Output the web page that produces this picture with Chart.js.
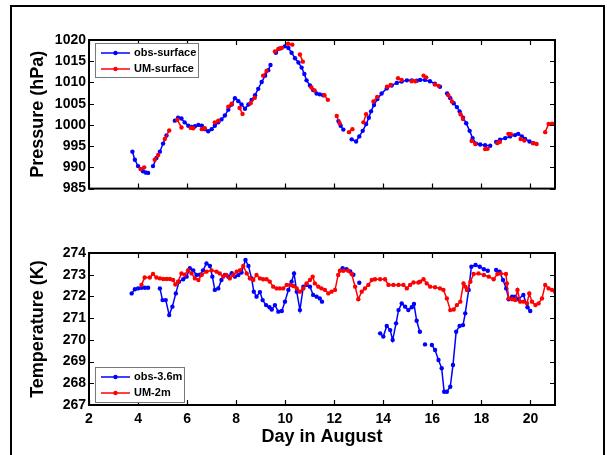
<!DOCTYPE html>
<html><head><meta charset="utf-8">
<script src="https://cdn.jsdelivr.net/npm/chart.js@4.4.0/dist/chart.umd.min.js"></script>
<style>
html,body{margin:0;padding:0;background:#fff;width:607px;height:455px;overflow:hidden;}
#frame{position:absolute;left:10px;top:5px;width:595px;height:470px;border:2px solid #000;box-sizing:border-box;}
.wrap{position:absolute;left:0;width:607px;}
#w1{top:0;height:200px;}
#w2{top:213px;height:242px;}
</style></head><body>
<div id="frame"></div>
<div class="wrap" id="w1"><canvas id="c1"></canvas></div>
<div class="wrap" id="w2"><canvas id="c2"></canvas></div>
<script>
// ---------- data (null = gap in record) ----------
const xTickStep = 2;
const pressureTicks = [985, 990, 995, 1000, 1005, 1010, 1015, 1020];
const tempTicks = [267, 268, 269, 270, 271, 272, 273, 274];

const obsSurfaceDay = [3.77,3.87,4.00,4.20,4.31,4.41,null,4.61,4.75,4.89,5.02,5.16,null,
 5.50,5.63,5.77,5.90,6.05,6.18,6.32,6.46,6.60,6.72,6.86,7.00,7.13,7.27,7.40,7.54,7.68,7.82,7.95,8.09,8.22,8.36,8.50,8.63,8.77,8.90,9.04,9.18,9.31,9.40,null,
 9.62,9.78,9.98,10.13,10.26,10.40,10.54,10.67,10.78,10.87,11.01,11.14,11.28,11.41,11.55,null,
 12.17,12.26,12.37,null,
 12.71,12.89,13.02,13.16,13.30,13.41,13.50,13.62,13.76,13.93,14.14,14.34,14.55,14.75,14.96,15.16,15.36,15.50,15.70,15.90,16.10,16.31,null,
 16.60,16.73,16.87,17.00,17.11,17.25,17.38,17.52,17.64,17.78,17.95,18.15,18.36,null,
 18.60,18.76,18.97,19.17,19.37,19.50,19.65,19.78,19.96,20.12];
const obsSurfaceP = [993.7,991.8,990.3,989.1,988.8,988.7,null,990.3,992.2,993.7,995.6,997.5,null,
 1001.0,1001.7,1001.5,1000.6,999.8,999.5,999.7,1000.0,999.8,999.0,998.5,999.0,999.8,1000.6,1001.3,1002.2,1003.6,1004.8,1006.3,1005.6,1004.8,1003.8,1004.8,1005.9,1007.0,1008.5,1010.1,1011.6,1012.9,1014.1,null,
 1017.0,1018.0,1018.5,1018.1,1017.0,1015.7,1014.7,1013.5,1012.0,1010.5,1009.3,1008.2,1007.4,1007.2,1007.0,null,
 1000.9,999.8,998.9,null,
 996.6,996.1,997.3,998.6,1000.2,1001.7,1003.2,1004.7,1006.1,1007.4,1008.6,1009.3,1009.9,1010.2,1010.5,1010.5,1010.4,1010.6,1010.6,1010.3,1009.7,1009.0,null,
 1007.4,1006.3,1005.1,1004.2,1003.2,1001.7,1000.4,998.6,996.9,995.6,995.4,995.2,995.1,null,
 996.0,996.5,996.9,997.3,997.6,997.9,997.3,996.7,996.1,995.7];

const umSurfaceDay = [4.10,4.25,null,4.68,4.82,null,5.09,5.27,null,5.60,5.77,null,6.15,6.25,null,6.60,6.72,null,
 7.13,7.27,null,7.68,7.82,null,8.14,8.26,null,8.59,8.76,null,9.10,9.24,null,9.58,9.72,9.86,null,10.12,10.29,null,
 10.60,10.72,null,11.07,11.20,null,11.60,11.74,null,12.10,12.22,null,12.60,12.74,null,13.19,13.30,null,
 13.60,13.75,null,14.15,14.30,null,14.60,14.75,null,15.15,15.30,null,15.64,15.75,null,16.10,16.25,null,
 16.65,16.80,null,17.15,17.25,null,17.60,17.75,null,18.15,18.25,null,18.65,18.75,null,19.10,19.20,null,
 19.60,19.75,null,20.10,20.25,null,20.60,20.74,20.88];
const umSurfaceP = [989.6,990.0,null,991.8,992.9,null,996.7,998.7,null,1001.2,999.4,null,999.3,999.2,null,999.0,999.2,null,
 1000.6,1001.0,null,1004.3,1005.0,null,1004.0,1002.6,null,1005.1,1006.4,null,1011.6,1012.7,null,1017.3,1017.9,1018.1,null,1019.1,1018.9,null,
 1016.6,1014.9,null,1008.8,1008.1,null,1007.0,1005.9,null,1002.1,1000.4,null,998.3,999.0,null,1000.6,1002.5,null,
 1005.5,1006.6,null,1009.0,1009.4,null,1011.0,1010.6,null,1010.3,1010.3,null,1011.6,1011.2,null,1009.5,1009.2,null,
 1007.0,1005.5,null,1002.5,1001.4,null,996.2,995.5,null,994.3,994.4,null,995.7,996.0,null,997.9,997.8,null,
 996.7,996.3,null,995.7,995.5,null,998.3,1000.2,1000.3];

const obsTempDay = [3.74,3.87,4.00,4.14,4.28,4.41,null,
 4.89,5.00,5.13,5.27,5.40,5.54,5.67,5.84,5.98,6.11,6.25,6.38,6.52,6.65,6.79,6.93,7.03,7.13,7.27,7.40,7.54,7.68,7.82,7.95,8.09,8.22,8.38,8.50,8.63,8.72,8.83,8.97,9.08,9.22,9.36,9.45,
 9.58,9.72,9.86,9.99,10.13,10.26,10.36,10.47,10.60,10.74,10.87,11.01,11.14,11.28,11.41,11.50,null,
 12.34,12.50,12.65,12.78,null,13.02,null,
 13.87,14.00,14.14,14.28,14.38,14.52,14.62,14.75,14.89,15.02,15.16,15.25,15.36,15.49,null,15.70,null,
 15.98,16.11,16.25,16.38,16.48,16.59,16.73,16.84,16.97,17.11,17.25,17.34,17.48,17.59,17.76,17.93,18.10,18.26,null,
 18.60,18.74,18.88,19.01,19.11,19.25,19.38,19.51,19.71,19.88,19.99];
const obsTempK = [272.14,272.33,272.37,272.40,272.40,272.40,null,
 272.37,271.83,271.83,271.14,271.53,272.14,272.68,272.79,272.91,273.30,273.20,272.99,273.00,273.20,273.52,273.40,272.91,272.30,272.37,272.76,272.99,272.91,273.07,272.91,272.99,273.10,273.68,273.40,272.83,272.22,271.99,272.20,271.83,271.60,271.50,271.40,
 271.60,271.30,271.33,271.76,272.30,272.68,273.06,272.22,271.37,272.45,272.53,272.45,272.07,271.99,271.91,271.76,null,
 273.30,273.25,273.15,273.00,null,272.63,null,
 270.30,270.15,270.64,270.45,269.99,270.76,271.37,271.68,271.53,271.37,271.50,271.65,270.88,270.37,null,269.79,null,
 269.76,269.53,269.07,268.69,267.61,267.61,267.84,268.84,270.37,270.64,270.68,271.22,272.30,273.37,273.45,273.37,273.25,273.18,null,
 273.22,273.14,272.76,272.37,271.87,271.99,271.99,271.87,272.07,271.50,271.33];

const umTempDay = [4.14,4.27,4.48,4.61,4.75,4.89,5.03,5.17,5.30,5.43,5.52,5.63,5.77,5.90,6.04,6.18,6.32,6.46,6.60,6.79,7.00,7.20,7.33,7.47,7.60,7.74,7.88,
 8.02,8.15,8.29,8.43,8.56,8.70,8.83,8.97,9.10,9.24,9.37,9.51,9.65,9.78,9.92,10.06,10.20,10.33,10.47,10.60,10.74,10.87,11.01,11.12,11.21,11.35,11.48,
 11.62,11.76,11.89,12.03,12.16,12.23,12.37,12.57,12.71,12.85,12.98,13.12,13.25,13.39,13.53,13.66,13.87,14.07,14.21,14.41,14.62,14.82,14.96,15.09,
 15.23,15.43,15.50,15.64,15.77,15.91,16.11,16.31,16.45,16.59,16.73,16.87,17.00,17.14,17.27,17.34,17.41,17.55,17.68,17.88,18.10,18.30,18.50,18.65,
 18.79,19.00,19.04,19.11,19.25,19.38,19.47,19.58,19.72,19.86,19.95,20.06,20.20,20.33,20.47,20.60,20.74,20.88,21.00];
const umTempK = [272.53,272.87,272.87,273.03,272.87,272.83,272.80,272.80,272.80,272.76,272.55,272.68,273.06,273.00,273.20,273.06,272.83,272.76,273.00,273.14,273.20,273.14,273.06,272.91,272.99,272.83,272.99,
 273.14,273.20,273.40,273.06,272.83,272.76,272.99,272.83,272.79,272.79,272.68,272.45,272.37,272.37,272.37,272.53,272.53,272.48,272.37,272.22,272.37,272.60,272.76,272.91,272.60,272.45,272.37,
 272.30,272.14,272.22,272.30,272.99,273.18,273.18,273.18,273.03,272.45,271.87,272.22,272.37,272.53,272.76,272.79,272.79,272.79,272.53,272.53,272.53,272.53,272.37,272.53,
 272.64,272.64,272.68,272.79,272.60,272.45,272.42,272.37,272.30,271.91,271.37,271.40,271.60,271.76,272.60,272.45,272.30,272.68,273.03,273.06,272.99,272.91,272.79,273.03,
 273.06,273.03,272.60,271.91,271.87,271.83,272.30,271.76,271.76,271.68,272.14,271.76,271.60,271.68,271.91,272.53,272.37,272.30,272.22];

// ---------- rendering ----------
const FONT = "'Liberation Sans', Arial, Helvetica, sans-serif";
const BLUE = '#0000ff', RED = '#ff0000';
const pts = (d, v) => d.map((x, i) => ({x: x, y: v[i]}));

const boxTicks = {
  id: 'boxTicks',
  afterDatasetsDraw(chart) {
    const {ctx, chartArea: a, scales: {x, y}} = chart;
    ctx.save();
    ctx.strokeStyle = '#000';
    ctx.lineWidth = 1.2;
    const L = 5;
    ctx.beginPath();
    x.ticks.forEach(t => {
      const px = Math.round(x.getPixelForValue(t.value)) + 0.5;
      ctx.moveTo(px, a.bottom); ctx.lineTo(px, a.bottom - L);
      ctx.moveTo(px, a.top); ctx.lineTo(px, a.top + L);
    });
    y.ticks.forEach(t => {
      const py = Math.round(y.getPixelForValue(t.value)) + 0.5;
      ctx.moveTo(a.left, py); ctx.lineTo(a.left + L, py);
      ctx.moveTo(a.right, py); ctx.lineTo(a.right - L, py);
    });
    ctx.stroke();
    ctx.lineWidth = 2;
    ctx.strokeRect(a.left, a.top, a.right - a.left, a.bottom - a.top);
    ctx.restore();
  }
};

const innerLegend = {
  id: 'innerLegend',
  afterDraw(chart, args, o) {
    const ctx = chart.ctx;
    ctx.save();
    ctx.fillStyle = '#fff';
    ctx.fillRect(o.x, o.y, o.w, o.h);
    ctx.strokeStyle = '#777';
    ctx.lineWidth = 1;
    ctx.strokeRect(o.x + 0.5, o.y + 0.5, o.w, o.h);
    ctx.font = 'bold 11px ' + FONT;
    ctx.textBaseline = 'middle';
    chart.data.datasets.slice().sort((a, b) => b.order - a.order).forEach((ds, i) => {
      const yy = o.rows[i];
      ctx.strokeStyle = ds.borderColor;
      ctx.lineWidth = 1.5;
      ctx.beginPath(); ctx.moveTo(o.x + 6, yy); ctx.lineTo(o.x + 35, yy); ctx.stroke();
      ctx.fillStyle = ds.borderColor;
      ctx.beginPath(); ctx.arc(o.x + 20.5, yy, 2.2, 0, Math.PI * 2); ctx.fill();
      ctx.fillStyle = '#000';
      ctx.fillText(ds.label, o.x + 39, yy);
    });
    ctx.restore();
  }
};

function ds(label, data, color, order) {
  return {label, data, borderColor: color, backgroundColor: color, borderWidth: 1.5,
    pointRadius: 2.2, pointBorderWidth: 0, pointBackgroundColor: color, pointHoverRadius: 2.2,
    spanGaps: false, tension: 0, order};
}

function opts(c) {
  return {
    responsive: true, maintainAspectRatio: false, animation: false, events: [],
    layout: {padding: {left: 0, right: 52, top: 40, bottom: c.padBottom}},
    plugins: {legend: {display: false}, tooltip: {enabled: false}, innerLegend: c.legend},
    scales: {
      x: {type: 'linear', min: 2, max: 21,
        ticks: {stepSize: xTickStep, includeBounds: false, display: c.showX, color: '#000', padding: 6, maxRotation: 0, autoSkip: false,
          font: {family: FONT, size: 14, weight: 'bold'}, callback: v => String(v)},
        grid: {display: false, drawTicks: false}, border: {display: false},
        title: {display: c.showX, text: 'Day in August', color: '#000', font: {family: FONT, size: 18, weight: 'bold'}, padding: {top: 0, bottom: 7}},
        afterFit: s => { s.height = c.xHeight; }},
      y: {type: 'linear', min: c.ymin, max: c.ymax,
        afterBuildTicks: s => { s.ticks = c.yticks.map(v => ({value: v})); },
        ticks: {color: '#000', padding: 3, font: {family: FONT, size: 14, weight: 'bold'}, callback: v => String(v)},
        grid: {display: false, drawTicks: false}, border: {display: false},
        title: {display: true, text: c.ytitle, color: '#000', font: {family: FONT, size: 18, weight: 'bold'}, padding: {top: 27, bottom: 0}},
        afterFit: s => { s.width = 89; }}
    }
  };
}

new Chart(document.getElementById('c1'), {
  type: 'line',
  data: {datasets: [
    ds('UM-surface', pts(umSurfaceDay, umSurfaceP), RED, 0),
    ds('obs-surface', pts(obsSurfaceDay, obsSurfaceP), BLUE, 1)
  ]},
  options: opts({padBottom: 7, showX: false, xHeight: 0, ymin: 985, ymax: 1020, yticks: pressureTicks,
    ytitle: 'Pressure (hPa)', legend: {x: 95, y: 43, w: 103, h: 34, rows: [53, 69]}}),
  plugins: [boxTicks, innerLegend]
});

new Chart(document.getElementById('c2'), {
  type: 'line',
  data: {datasets: [
    ds('UM-2m', pts(umTempDay, umTempK), RED, 0),
    ds('obs-3.6m', pts(obsTempDay, obsTempK), BLUE, 1)
  ]},
  options: opts({padBottom: 0, showX: true, xHeight: 50, ymin: 267, ymax: 274, yticks: tempTicks,
    ytitle: 'Temperature (K)', legend: {x: 95, y: 154, w: 89, h: 35, rows: [164, 180]}}),
  plugins: [boxTicks, innerLegend]
});
</script>
</body></html>
